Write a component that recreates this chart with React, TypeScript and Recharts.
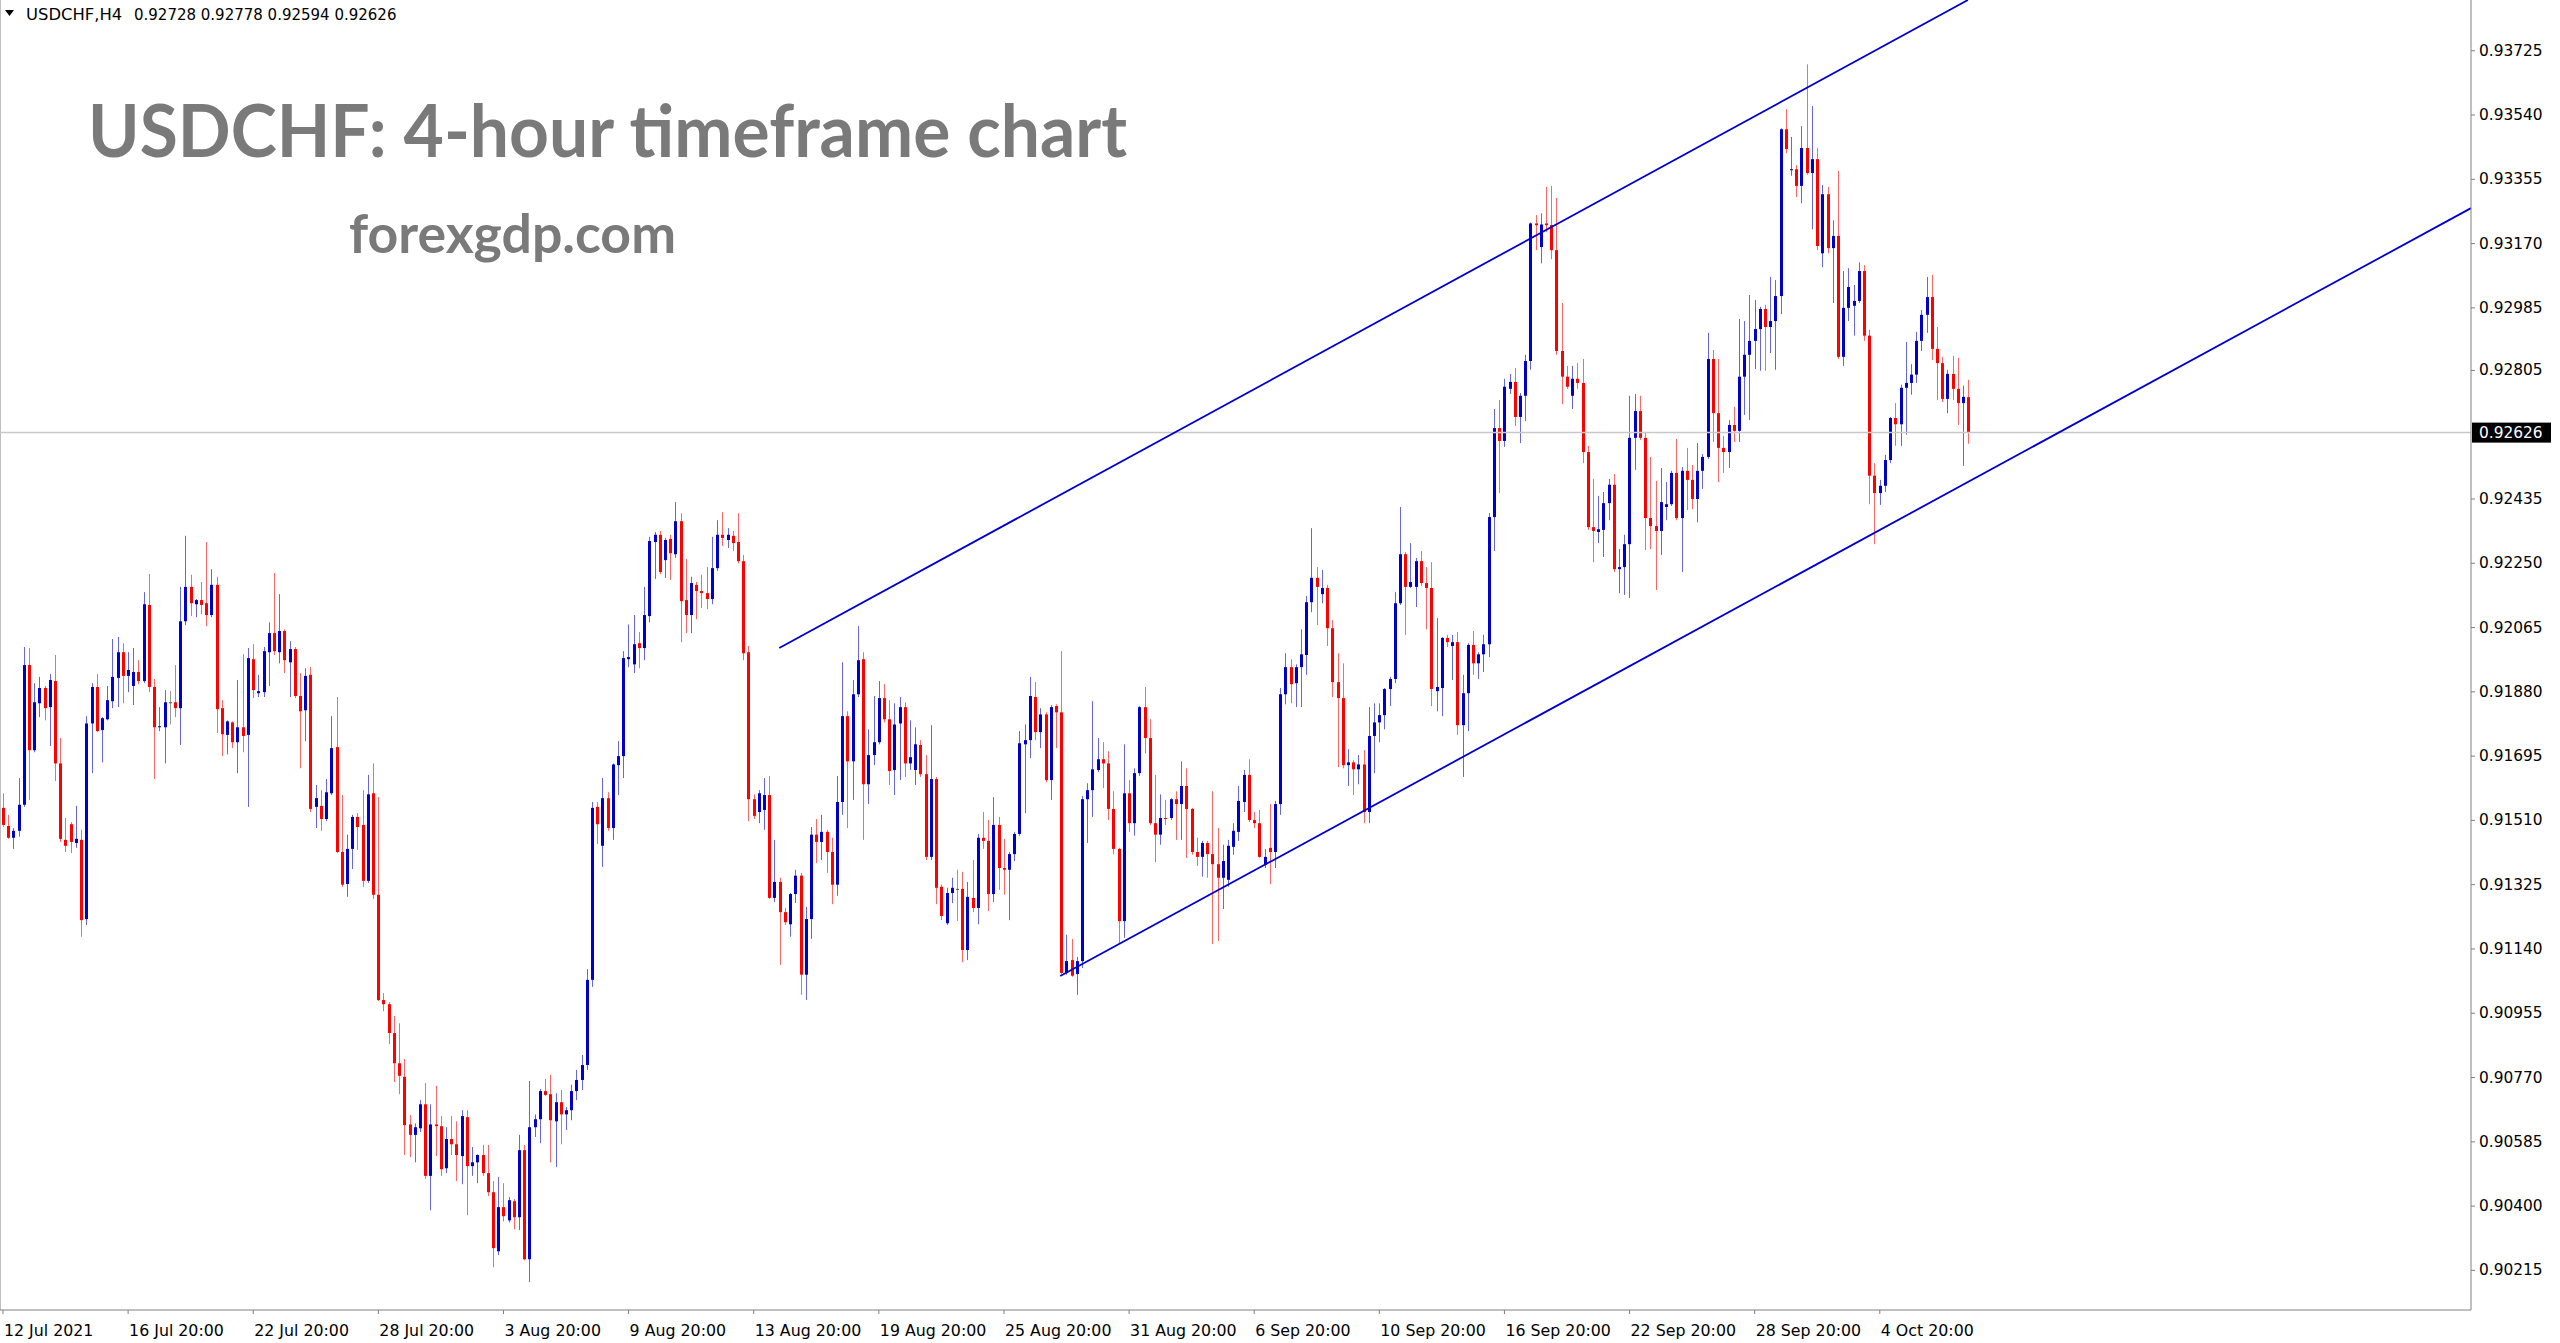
import React from 'react';
import { ComposedChart, Bar, XAxis, YAxis, ReferenceLine } from 'recharts';

// USDCHF H4 candles (bar 0 = 12 Jul 2021 20:00)
const opens = [
  0.91546, 0.91494, 0.91460, 0.91480, 0.91555, 0.91957, 0.91712, 0.91847, 0.91891, 0.91836,
  0.91911, 0.91674, 0.91454, 0.91499, 0.91445, 0.91454, 0.91226, 0.91789, 0.91894, 0.91770,
  0.91801, 0.91853, 0.91920, 0.91994, 0.91926, 0.91897, 0.91937, 0.91911, 0.92130, 0.91894,
  0.91778, 0.91778, 0.91850, 0.91850, 0.91833, 0.92083, 0.92182, 0.92132, 0.92144, 0.92135,
  0.92101, 0.92188, 0.91833, 0.91756, 0.91792, 0.91735, 0.91778, 0.91756, 0.91974, 0.91876,
  0.91879, 0.91994, 0.92049, 0.91994, 0.92055, 0.91965, 0.92003, 0.91868, 0.91827, 0.91929,
  0.91549, 0.91552, 0.91514, 0.91588, 0.91721, 0.91419, 0.91327, 0.91428, 0.91520, 0.91497,
  0.91336, 0.91588, 0.91296, 0.90993, 0.90981, 0.90898, 0.90811, 0.90772, 0.90635, 0.90605,
  0.90624, 0.90693, 0.90487, 0.90635, 0.90630, 0.90509, 0.90593, 0.90578, 0.90544, 0.90656,
  0.90515, 0.90526, 0.90547, 0.90495, 0.90440, 0.90270, 0.90397, 0.90359, 0.90414, 0.90368,
  0.90561, 0.90247, 0.90627, 0.90650, 0.90731, 0.90722, 0.90644, 0.90699, 0.90664, 0.90676,
  0.90731, 0.90763, 0.90806, 0.91051, 0.91549, 0.91437, 0.91574, 0.91488, 0.91669, 0.91695,
  0.91974, 0.91959, 0.92020, 0.92006, 0.92098, 0.92311, 0.92332, 0.92259, 0.92320, 0.92276,
  0.92371, 0.92144, 0.92101, 0.92188, 0.92170, 0.92164, 0.92147, 0.92236, 0.92332, 0.92317,
  0.92329, 0.92311, 0.92256, 0.91994, 0.91571, 0.91534, 0.91540, 0.91583, 0.91287, 0.91333,
  0.91246, 0.91211, 0.91298, 0.91351, 0.91066, 0.91226, 0.91469, 0.91448, 0.91477, 0.91419,
  0.91325, 0.91563, 0.91810, 0.91680, 0.91873, 0.91974, 0.91614, 0.91698, 0.91735, 0.91862,
  0.91801, 0.91655, 0.91789, 0.91836, 0.91674, 0.91655, 0.91727, 0.91643, 0.91405, 0.91629,
  0.91319, 0.91214, 0.91301, 0.91313, 0.91313, 0.91137, 0.91287, 0.91258, 0.91460, 0.91451,
  0.91298, 0.91497, 0.91373, 0.91368, 0.91413, 0.91471, 0.91729, 0.91741, 0.91865, 0.91764,
  0.91815, 0.91626, 0.91839, 0.91821, 0.91071, 0.91108, 0.91068, 0.91105, 0.91571, 0.91597,
  0.91655, 0.91686, 0.91674, 0.91543, 0.91428, 0.91220, 0.91588, 0.91502, 0.91646, 0.91836,
  0.91747, 0.91502, 0.91469, 0.91517, 0.91517, 0.91571, 0.91557, 0.91609, 0.91543, 0.91419,
  0.91405, 0.91445, 0.91413, 0.91384, 0.91345, 0.91339, 0.91434, 0.91477, 0.91563, 0.91641,
  0.91511, 0.91502, 0.91382, 0.91431, 0.91419, 0.91557, 0.91873, 0.91951, 0.91905, 0.91951,
  0.91986, 0.92138, 0.92208, 0.92161, 0.92179, 0.92063, 0.91908, 0.91862, 0.91669, 0.91677,
  0.91657, 0.91671, 0.91534, 0.91753, 0.91792, 0.91813, 0.91888, 0.91917, 0.92135, 0.92276,
  0.92182, 0.92182, 0.92256, 0.92193, 0.92179, 0.91882, 0.91891, 0.92035, 0.92012, 0.92023,
  0.91784, 0.91876, 0.92015, 0.91962, 0.91988, 0.92017, 0.92383, 0.92639, 0.92602, 0.92752,
  0.92772, 0.92671, 0.92732, 0.92832, 0.93228, 0.93160, 0.93228, 0.93223, 0.93151, 0.92861,
  0.92787, 0.92732, 0.92781, 0.92769, 0.92570, 0.92354, 0.92340, 0.92346, 0.92423, 0.92476,
  0.92233, 0.92239, 0.92305, 0.92611, 0.92688, 0.92611, 0.92380, 0.92357, 0.92343, 0.92412,
  0.92420, 0.92510, 0.92380, 0.92516, 0.92490, 0.92435, 0.92516, 0.92556, 0.92838, 0.92682,
  0.92582, 0.92570, 0.92648, 0.92631, 0.92787, 0.92850, 0.92890, 0.92924, 0.92982, 0.92930,
  0.92947, 0.93019, 0.93499, 0.93382, 0.93384, 0.93336, 0.93445, 0.93373, 0.93413, 0.93142,
  0.93312, 0.93157, 0.93192, 0.92844, 0.92985, 0.92991, 0.93005, 0.93091, 0.92905, 0.92502,
  0.92452, 0.92473, 0.92547, 0.92668, 0.92650, 0.92755, 0.92769, 0.92793, 0.92890, 0.92965,
  0.93016, 0.92867, 0.92826, 0.92723, 0.92795, 0.92752, 0.92711, 0.92728,
];

const highs = [
  0.91588, 0.91526, 0.91488, 0.91632, 0.92009, 0.92006, 0.91905, 0.91923, 0.91897, 0.91931,
  0.91986, 0.91747, 0.91517, 0.91505, 0.91552, 0.91483, 0.91810, 0.91905, 0.91931, 0.91807,
  0.91897, 0.92032, 0.92038, 0.92020, 0.91994, 0.92006, 0.91971, 0.92167, 0.92219, 0.91917,
  0.91836, 0.91885, 0.91882, 0.91957, 0.92182, 0.92329, 0.92217, 0.92147, 0.92196, 0.92311,
  0.92233, 0.92211, 0.91856, 0.91798, 0.91795, 0.91914, 0.91988, 0.92006, 0.92017, 0.91929,
  0.92009, 0.92080, 0.92222, 0.92161, 0.92060, 0.92026, 0.92009, 0.91934, 0.91948, 0.91951,
  0.91612, 0.91597, 0.91629, 0.91810, 0.91865, 0.91583, 0.91469, 0.91526, 0.91531, 0.91597,
  0.91641, 0.91674, 0.91577, 0.91013, 0.90987, 0.90947, 0.90926, 0.90823, 0.90662, 0.90638,
  0.90705, 0.90754, 0.90693, 0.90746, 0.90659, 0.90627, 0.90659, 0.90644, 0.90676, 0.90676,
  0.90570, 0.90549, 0.90576, 0.90576, 0.90472, 0.90484, 0.90466, 0.90426, 0.90420, 0.90605,
  0.90576, 0.90760, 0.90664, 0.90737, 0.90766, 0.90778, 0.90725, 0.90734, 0.90685, 0.90749,
  0.90792, 0.90835, 0.91082, 0.91563, 0.91563, 0.91632, 0.91591, 0.91674, 0.91738, 0.91997,
  0.92074, 0.92101, 0.92052, 0.92182, 0.92326, 0.92340, 0.92343, 0.92323, 0.92332, 0.92426,
  0.92394, 0.92262, 0.92211, 0.92196, 0.92217, 0.92239, 0.92326, 0.92374, 0.92397, 0.92351,
  0.92343, 0.92394, 0.92274, 0.92012, 0.91585, 0.91597, 0.91632, 0.91638, 0.91454, 0.91345,
  0.91258, 0.91301, 0.91368, 0.91359, 0.91261, 0.91491, 0.91514, 0.91526, 0.91483, 0.91460,
  0.91638, 0.91965, 0.91824, 0.91914, 0.92069, 0.91994, 0.91772, 0.91868, 0.91911, 0.91902,
  0.91856, 0.91847, 0.91865, 0.91850, 0.91798, 0.91778, 0.91741, 0.91698, 0.91784, 0.91635,
  0.91325, 0.91316, 0.91345, 0.91368, 0.91362, 0.91333, 0.91396, 0.91471, 0.91534, 0.91511,
  0.91577, 0.91520, 0.91457, 0.91419, 0.91477, 0.91767, 0.91786, 0.91923, 0.91908, 0.91833,
  0.91821, 0.91842, 0.91844, 0.91997, 0.91181, 0.91169, 0.91117, 0.91580, 0.91617, 0.91853,
  0.91747, 0.91735, 0.91709, 0.91594, 0.91431, 0.91729, 0.91626, 0.91660, 0.91839, 0.91894,
  0.91801, 0.91641, 0.91585, 0.91569, 0.91574, 0.91594, 0.91680, 0.91660, 0.91546, 0.91460,
  0.91451, 0.91451, 0.91594, 0.91488, 0.91440, 0.91454, 0.91502, 0.91609, 0.91655, 0.91686,
  0.91534, 0.91540, 0.91428, 0.91557, 0.91566, 0.91891, 0.91991, 0.91974, 0.91959, 0.92060,
  0.92156, 0.92351, 0.92239, 0.92231, 0.92188, 0.92086, 0.91991, 0.91962, 0.91715, 0.91683,
  0.91698, 0.91712, 0.91836, 0.91847, 0.91847, 0.91891, 0.91923, 0.92167, 0.92412, 0.92282,
  0.92308, 0.92265, 0.92285, 0.92239, 0.92253, 0.92092, 0.92038, 0.92044, 0.92044, 0.92052,
  0.91929, 0.92020, 0.92055, 0.91994, 0.92044, 0.92394, 0.92694, 0.92720, 0.92781, 0.92795,
  0.92812, 0.92740, 0.92850, 0.93231, 0.93252, 0.93257, 0.93333, 0.93336, 0.93301, 0.92999,
  0.92818, 0.92818, 0.92826, 0.92838, 0.92588, 0.92493, 0.92444, 0.92455, 0.92493, 0.92507,
  0.92291, 0.92332, 0.92732, 0.92737, 0.92732, 0.92628, 0.92556, 0.92487, 0.92524, 0.92484,
  0.92516, 0.92608, 0.92527, 0.92582, 0.92533, 0.92596, 0.92564, 0.92913, 0.92864, 0.92838,
  0.92617, 0.92662, 0.92700, 0.92953, 0.92947, 0.93022, 0.93008, 0.92988, 0.92994, 0.93074,
  0.93065, 0.93502, 0.93557, 0.93477, 0.93396, 0.93508, 0.93686, 0.93566, 0.93445, 0.93339,
  0.93333, 0.93237, 0.93379, 0.93091, 0.93099, 0.93051, 0.93116, 0.93108, 0.92922, 0.92538,
  0.92490, 0.92562, 0.92671, 0.92711, 0.92764, 0.92887, 0.92823, 0.92916, 0.92979, 0.93074,
  0.93080, 0.92930, 0.92844, 0.92807, 0.92847, 0.92841, 0.92761, 0.92778,
];

const lows = [
  0.91491, 0.91457, 0.91428, 0.91463, 0.91549, 0.91569, 0.91706, 0.91807, 0.91798, 0.91724,
  0.91623, 0.91448, 0.91419, 0.91416, 0.91431, 0.91175, 0.91209, 0.91646, 0.91764, 0.91677,
  0.91798, 0.91833, 0.91836, 0.91847, 0.91879, 0.91842, 0.91902, 0.91905, 0.91879, 0.91629,
  0.91767, 0.91674, 0.91786, 0.91807, 0.91727, 0.92072, 0.92098, 0.92095, 0.92103, 0.92069,
  0.92095, 0.91761, 0.91695, 0.91700, 0.91718, 0.91646, 0.91706, 0.91549, 0.91862, 0.91865,
  0.91865, 0.91897, 0.91986, 0.91962, 0.91934, 0.91865, 0.91862, 0.91660, 0.91738, 0.91534,
  0.91488, 0.91480, 0.91508, 0.91583, 0.91416, 0.91319, 0.91290, 0.91370, 0.91425, 0.91319,
  0.91330, 0.91284, 0.90990, 0.90961, 0.90866, 0.90757, 0.90722, 0.90547, 0.90541, 0.90526,
  0.90613, 0.90478, 0.90388, 0.90544, 0.90487, 0.90495, 0.90547, 0.90472, 0.90463, 0.90374,
  0.90487, 0.90466, 0.90487, 0.90429, 0.90224, 0.90259, 0.90356, 0.90353, 0.90333, 0.90331,
  0.90244, 0.90181, 0.90599, 0.90581, 0.90717, 0.90526, 0.90512, 0.90578, 0.90619, 0.90647,
  0.90705, 0.90734, 0.90792, 0.91031, 0.91442, 0.91376, 0.91480, 0.91454, 0.91583, 0.91632,
  0.91951, 0.91934, 0.91948, 0.91971, 0.92080, 0.92205, 0.92219, 0.92208, 0.92202, 0.92265,
  0.92023, 0.92049, 0.92049, 0.92089, 0.92121, 0.92118, 0.92132, 0.92228, 0.92300, 0.92294,
  0.92285, 0.92250, 0.91971, 0.91508, 0.91514, 0.91502, 0.91483, 0.91284, 0.91275, 0.91094,
  0.91209, 0.91175, 0.91272, 0.91008, 0.90993, 0.91169, 0.91387, 0.91396, 0.91359, 0.91269,
  0.91293, 0.91526, 0.91488, 0.91569, 0.91865, 0.91454, 0.91557, 0.91669, 0.91729, 0.91792,
  0.91612, 0.91583, 0.91626, 0.91635, 0.91655, 0.91612, 0.91635, 0.91396, 0.91396, 0.91269,
  0.91223, 0.91209, 0.91272, 0.91220, 0.91102, 0.91108, 0.91246, 0.91211, 0.91428, 0.91249,
  0.91275, 0.91310, 0.91296, 0.91223, 0.91393, 0.91466, 0.91531, 0.91689, 0.91741, 0.91718,
  0.91620, 0.91569, 0.91718, 0.91066, 0.91066, 0.91060, 0.91008, 0.91085, 0.91445, 0.91520,
  0.91649, 0.91603, 0.91511, 0.91413, 0.91157, 0.91172, 0.91477, 0.91466, 0.91638, 0.91703,
  0.91497, 0.91390, 0.91440, 0.91497, 0.91511, 0.91454, 0.91454, 0.91402, 0.91411, 0.91379,
  0.91348, 0.91345, 0.91154, 0.91163, 0.91255, 0.91319, 0.91411, 0.91451, 0.91534, 0.91505,
  0.91488, 0.91402, 0.91373, 0.91327, 0.91373, 0.91526, 0.91844, 0.91847, 0.91836, 0.91836,
  0.91929, 0.92109, 0.92072, 0.92135, 0.92012, 0.91865, 0.91663, 0.91660, 0.91609, 0.91583,
  0.91614, 0.91502, 0.91502, 0.91646, 0.91735, 0.91772, 0.91839, 0.91905, 0.92130, 0.92044,
  0.92179, 0.92124, 0.92185, 0.92060, 0.91839, 0.91824, 0.91810, 0.92009, 0.91914, 0.91756,
  0.91635, 0.91767, 0.91929, 0.91917, 0.91937, 0.91980, 0.92285, 0.92452, 0.92585, 0.92737,
  0.92645, 0.92596, 0.92659, 0.92807, 0.93151, 0.93113, 0.93203, 0.93125, 0.92850, 0.92708,
  0.92752, 0.92694, 0.92752, 0.92538, 0.92346, 0.92253, 0.92308, 0.92268, 0.92374, 0.92225,
  0.92164, 0.92159, 0.92150, 0.92519, 0.92605, 0.92288, 0.92291, 0.92173, 0.92274, 0.92374,
  0.92415, 0.92374, 0.92225, 0.92403, 0.92406, 0.92368, 0.92464, 0.92550, 0.92599, 0.92484,
  0.92510, 0.92524, 0.92599, 0.92599, 0.92677, 0.92662, 0.92809, 0.92804, 0.92804, 0.92855,
  0.92807, 0.92967, 0.93430, 0.93365, 0.93304, 0.93286, 0.93368, 0.93211, 0.93151, 0.93102,
  0.93142, 0.92999, 0.92838, 0.92818, 0.92947, 0.92905, 0.92999, 0.92890, 0.92420, 0.92305,
  0.92418, 0.92455, 0.92538, 0.92588, 0.92588, 0.92620, 0.92735, 0.92769, 0.92861, 0.92913,
  0.92835, 0.92720, 0.92714, 0.92682, 0.92720, 0.92648, 0.92530, 0.92594,
];

const closes = [
  0.91497, 0.91460, 0.91480, 0.91555, 0.91957, 0.91712, 0.91850, 0.91891, 0.91833, 0.91914,
  0.91674, 0.91457, 0.91437, 0.91448, 0.91457, 0.91223, 0.91789, 0.91894, 0.91767, 0.91804,
  0.91856, 0.91923, 0.91994, 0.91926, 0.91943, 0.91937, 0.91911, 0.92132, 0.91894, 0.91778,
  0.91781, 0.91850, 0.91850, 0.91833, 0.92083, 0.92182, 0.92135, 0.92144, 0.92130, 0.92101,
  0.92188, 0.91830, 0.91758, 0.91795, 0.91735, 0.91778, 0.91753, 0.91977, 0.91885, 0.91882,
  0.91997, 0.92049, 0.91997, 0.92055, 0.91971, 0.92003, 0.91868, 0.91824, 0.91926, 0.91543,
  0.91574, 0.91514, 0.91591, 0.91718, 0.91419, 0.91325, 0.91428, 0.91520, 0.91491, 0.91336,
  0.91585, 0.91296, 0.90993, 0.90981, 0.90898, 0.90811, 0.90775, 0.90633, 0.90605, 0.90627,
  0.90693, 0.90487, 0.90635, 0.90630, 0.90506, 0.90593, 0.90578, 0.90547, 0.90659, 0.90515,
  0.90526, 0.90547, 0.90495, 0.90440, 0.90279, 0.90397, 0.90371, 0.90417, 0.90368, 0.90561,
  0.90247, 0.90627, 0.90650, 0.90731, 0.90720, 0.90647, 0.90699, 0.90664, 0.90676, 0.90731,
  0.90763, 0.90806, 0.91051, 0.91546, 0.91499, 0.91574, 0.91488, 0.91671, 0.91695, 0.91977,
  0.91980, 0.92017, 0.92006, 0.92101, 0.92314, 0.92332, 0.92225, 0.92317, 0.92279, 0.92371,
  0.92141, 0.92101, 0.92193, 0.92170, 0.92164, 0.92147, 0.92236, 0.92332, 0.92323, 0.92332,
  0.92308, 0.92256, 0.91991, 0.91571, 0.91523, 0.91588, 0.91583, 0.91287, 0.91333, 0.91246,
  0.91217, 0.91298, 0.91351, 0.91066, 0.91226, 0.91469, 0.91448, 0.91477, 0.91419, 0.91325,
  0.91563, 0.91810, 0.91680, 0.91873, 0.91971, 0.91614, 0.91698, 0.91735, 0.91862, 0.91801,
  0.91652, 0.91786, 0.91836, 0.91674, 0.91692, 0.91729, 0.91643, 0.91405, 0.91629, 0.91316,
  0.91235, 0.91301, 0.91316, 0.91313, 0.91137, 0.91290, 0.91258, 0.91460, 0.91451, 0.91298,
  0.91497, 0.91373, 0.91368, 0.91413, 0.91471, 0.91732, 0.91741, 0.91868, 0.91764, 0.91815,
  0.91626, 0.91836, 0.91821, 0.91071, 0.91105, 0.91063, 0.91105, 0.91571, 0.91597, 0.91657,
  0.91686, 0.91674, 0.91543, 0.91428, 0.91220, 0.91588, 0.91502, 0.91646, 0.91836, 0.91747,
  0.91502, 0.91469, 0.91517, 0.91514, 0.91571, 0.91557, 0.91609, 0.91543, 0.91419, 0.91405,
  0.91445, 0.91413, 0.91384, 0.91345, 0.91393, 0.91437, 0.91480, 0.91566, 0.91641, 0.91511,
  0.91502, 0.91405, 0.91405, 0.91419, 0.91557, 0.91873, 0.91951, 0.91902, 0.91951, 0.91988,
  0.92138, 0.92208, 0.92182, 0.92179, 0.92063, 0.91908, 0.91862, 0.91669, 0.91677, 0.91657,
  0.91671, 0.91534, 0.91753, 0.91792, 0.91813, 0.91888, 0.91917, 0.92135, 0.92276, 0.92182,
  0.92196, 0.92256, 0.92193, 0.92179, 0.91888, 0.91894, 0.92035, 0.92023, 0.92023, 0.91784,
  0.91876, 0.92015, 0.91962, 0.91988, 0.92017, 0.92383, 0.92639, 0.92602, 0.92758, 0.92772,
  0.92671, 0.92732, 0.92832, 0.93228, 0.93223, 0.93225, 0.93223, 0.93151, 0.92861, 0.92787,
  0.92758, 0.92781, 0.92769, 0.92570, 0.92354, 0.92343, 0.92348, 0.92423, 0.92476, 0.92233,
  0.92239, 0.92305, 0.92611, 0.92688, 0.92611, 0.92380, 0.92357, 0.92343, 0.92426, 0.92420,
  0.92510, 0.92380, 0.92516, 0.92490, 0.92435, 0.92516, 0.92556, 0.92838, 0.92682, 0.92582,
  0.92570, 0.92648, 0.92631, 0.92787, 0.92850, 0.92890, 0.92924, 0.92982, 0.92930, 0.92947,
  0.93019, 0.93499, 0.93442, 0.93384, 0.93336, 0.93445, 0.93373, 0.93413, 0.93163, 0.93312,
  0.93157, 0.93192, 0.92844, 0.92985, 0.93045, 0.93005, 0.93091, 0.92905, 0.92502, 0.92452,
  0.92473, 0.92547, 0.92668, 0.92650, 0.92755, 0.92769, 0.92793, 0.92890, 0.92965, 0.93016,
  0.92867, 0.92826, 0.92723, 0.92795, 0.92752, 0.92711, 0.92729, 0.92626,
];

// time axis: bar index of each label
const timeTicks = [0, 24, 48, 72, 96, 120, 144, 168, 192, 216, 240, 264, 288, 312, 336, 360];
const timeLabels = [
  '12 Jul 2021', '16 Jul 20:00', '22 Jul 20:00', '28 Jul 20:00', '3 Aug 20:00', '9 Aug 20:00',
  '13 Aug 20:00', '19 Aug 20:00', '25 Aug 20:00', '31 Aug 20:00', '6 Sep 20:00', '10 Sep 20:00',
  '16 Sep 20:00', '22 Sep 20:00', '28 Sep 20:00', '4 Oct 20:00',
];
const priceTicks = [
  0.93725, 0.9354, 0.93355, 0.9317, 0.92985, 0.92805, 0.92435, 0.9225, 0.92065, 0.9188,
  0.91695, 0.9151, 0.91325, 0.9114, 0.90955, 0.9077, 0.90585, 0.904, 0.90215,
];

// channel drawn by hand on the chart: [bar index, price]
const upperChannel = [
  { x: 148.9, y: 0.92006 },
  { x: 376.9, y: 0.93871 },
];
const lowerChannel = [
  { x: 202.8, y: 0.91062 },
  { x: 473.4, y: 0.93272 },
];

const symbol = 'USDCHF,H4';
const titleText = 'USDCHF: 4-hour timeframe chart';
const siteText = 'forexgdp.com';

const W = 2560;
const H = 1343;
const UP = '#0000CD';
const DOWN = '#FF0000';
const FLAT = '#555555';
const AXIS_FONT = '"DejaVu Sans", Verdana, sans-serif';

const data = opens.map((o, i) => ({
  i,
  open: o,
  high: highs[i],
  low: lows[i],
  close: closes[i],
  range: [lows[i], highs[i]],
}));
const last = data[data.length - 1];

function Candle(props: any) {
  const { x, y, width, height, payload } = props;
  if (x == null || y == null || !payload) return null;
  const top = Math.min(y, y + height);
  const span = Math.abs(height);
  const { open, close, high, low } = payload;
  const k = high > low ? span / (high - low) : 0;
  const py = (v: number) => top + (high - v) * k;
  const c = Math.round(x + width / 2);
  const yo = py(open);
  const yc = py(close);
  const color = close > open ? UP : close < open ? DOWN : FLAT;
  const bTop = Math.min(yo, yc);
  const bH = Math.max(Math.abs(yc - yo), 1);
  return (
    <g>
      <line x1={c + 0.5} x2={c + 0.5} y1={top} y2={top + span} stroke={color} strokeOpacity={0.6} />
      <rect x={c - 1} y={bTop} width={3} height={bH} fill={color} />
    </g>
  );
}

function PriceTick(props: any) {
  const { x, y, payload } = props;
  return (
    <text x={x} y={y} dy={5} fontFamily={AXIS_FONT} fontSize={15.4} fill="#000">
      {Number(payload.value).toFixed(5)}
    </text>
  );
}

function TimeTick(props: any) {
  const { x, y, index } = props;
  return (
    <text x={x + 1} y={y} dy={20} fontFamily={AXIS_FONT} fontSize={15.8} fill="#000" textAnchor="start">
      {timeLabels[index] ?? ''}
    </text>
  );
}

function PriceTag(props: any) {
  const vb = props.viewBox || {};
  const x = (vb.x ?? 0) + (vb.width ?? 0);
  const y = vb.y ?? 0;
  return (
    <g>
      <rect x={x + 1} y={y - 10} width={79} height={20} fill="#000" />
      <text x={x + 8} y={y} dy={5} fontFamily={AXIS_FONT} fontSize={15.4} fill="#fff">
        {last.close.toFixed(5)}
      </text>
    </g>
  );
}

export default function App() {
  return (
    <div style={{ position: 'absolute', left: 0, top: 0, width: W, height: H, background: '#fff' }}>
      <ComposedChart width={W} height={H} data={data} margin={{ top: 0, right: 0, bottom: 0, left: 0 }}>
        <XAxis
          type="number"
          dataKey="i"
          domain={[-0.575, 473.4]}
          allowDataOverflow
          ticks={timeTicks}
          interval={0}
          height={33}
          tickSize={4}
          tickMargin={2}
          stroke="#808080"
          tick={<TimeTick />}
        />
        <YAxis
          orientation="right"
          domain={[0.90101, 0.93871]}
          allowDataOverflow
          ticks={priceTicks}
          interval={0}
          width={89}
          tickSize={4}
          tickMargin={4}
          stroke="#808080"
          tick={<PriceTick />}
        />
        <ReferenceLine x={-0.575} stroke="#808080" />
        <ReferenceLine y={last.close} stroke="#C8C8C8" strokeWidth={1.5} label={<PriceTag />} />
        <Bar dataKey="range" barSize={3} isAnimationActive={false} shape={<Candle />} />
        <ReferenceLine segment={upperChannel} stroke="#0000CD" strokeWidth={1.8} />
        <ReferenceLine segment={lowerChannel} stroke="#0000CD" strokeWidth={1.8} />
      </ComposedChart>
      <svg width={W} height={H} style={{ position: 'absolute', left: 0, top: 0, pointerEvents: 'none' }}>
        <polygon points="5,10 14,10 9.5,16" fill="#000" />
        <text x={26} y={20} fontFamily={AXIS_FONT} fontSize={16.4} fill="#000">{symbol}</text>
        <text x={134} y={20} fontFamily={AXIS_FONT} fontSize={15} fill="#000">
          {[last.open, last.high, last.low, last.close].map((v) => v.toFixed(5)).join(' ')}
        </text>
        <text x={88} y={157} fontFamily="Lato, sans-serif" fontWeight={700} fontSize={72} fill="#7A7A7A"
          textLength={1039} lengthAdjust="spacingAndGlyphs">{titleText}</text>
        <text x={349} y={253} fontFamily="Lato, sans-serif" fontWeight={700} fontSize={53} fill="#7A7A7A"
          textLength={327} lengthAdjust="spacingAndGlyphs">{siteText}</text>
      </svg>
    </div>
  );
}
